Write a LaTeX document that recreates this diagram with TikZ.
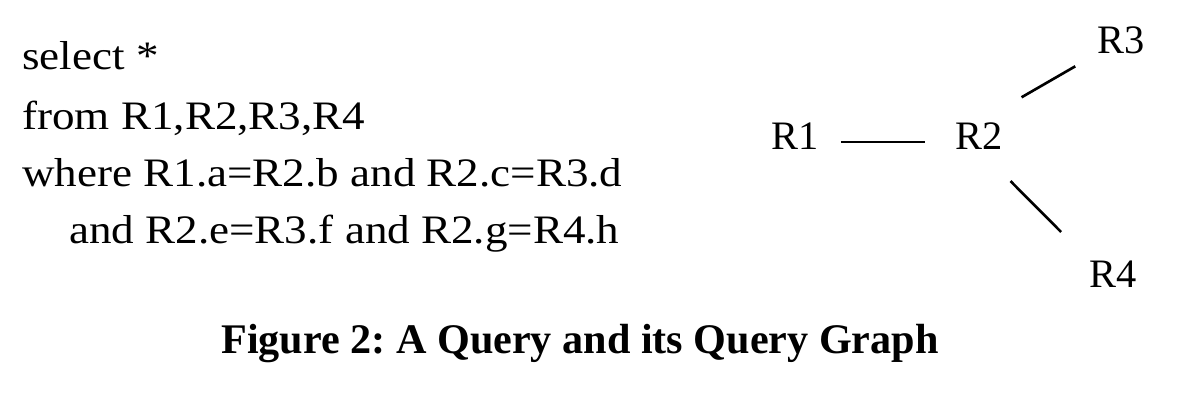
\documentclass[tikz,border=0pt]{standalone}
\usepackage{fontspec}
\setmainfont{Liberation Serif}
\newfontfamily\queryfont{Liberation Serif}[FakeStretch=1.115]
\usetikzlibrary{positioning}

\begin{document}
\frenchspacing
\begin{tikzpicture}[
    x=0.02cm, y=-0.02cm,
    qline/.style={anchor=base west, inner sep=0pt, font=\queryfont\fontsize{23}{28}\selectfont},
    rel/.style={anchor=base west, inner sep=0pt, font=\fontsize{23}{28}\selectfont},
    link/.style={line width=1.5pt}
]
\useasboundingbox (0,0) rectangle (1184,400);

% Query text
\node[qline] (sel) at (22,69) {select *};
\node[qline] (from) at (22,129) {from R1,R2,R3,R4};
\node[qline] (where) at (22,186) {where R1.a=R2.b and R2.c=R3.d};
\node[qline] (and) at (69,243) {and R2.e=R3.f and R2.g=R4.h};

% Query graph
\node[rel] (r1) at (771,149) {R1};
\node[rel] (r2) at (955,149) {R2};
\node[rel] (r3) at (1097,53) {R3};
\node[rel] (r4) at (1089,287) {R4};

\draw[link, shorten <=12.5pt, shorten >=17pt] ([yshift=4pt]r1.base east) -- ([yshift=4pt]r2.base west);
\draw[link, shorten <=28pt, shorten >=14.3pt] (r2.north) -- (r3.south west);
\draw[link, shorten <=25.5pt, shorten >=22.5pt] (r2.south) -- (r4.north west);

% Caption
\node[anchor=base, inner sep=0pt, font=\fontsize{24}{28}\selectfont\bfseries] (caption) at (580,353) {Figure 2: A Query and its Query Graph};
\end{tikzpicture}
\end{document}
